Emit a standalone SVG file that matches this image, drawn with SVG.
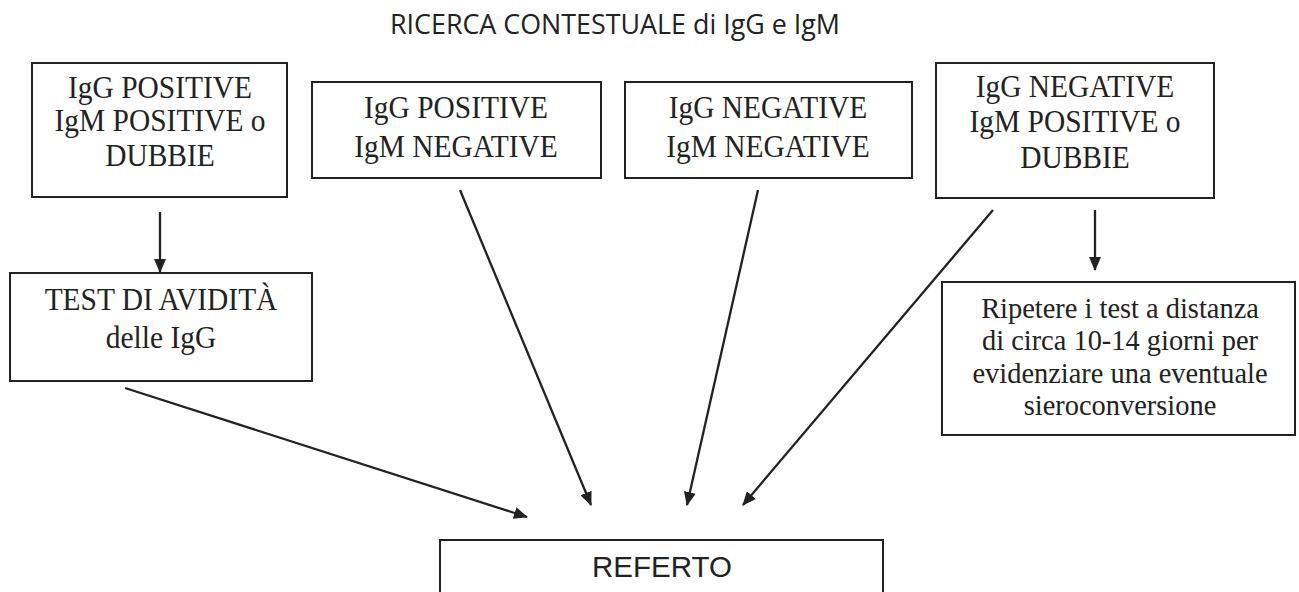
<svg xmlns="http://www.w3.org/2000/svg" width="1299" height="592" viewBox="0 0 1299 592">
<style>
.box{fill:#fff;stroke:#222;stroke-width:2}
.t{font-family:"Liberation Serif","Times New Roman",serif;font-size:31px;fill:#222;text-anchor:middle}
.s{font-size:29px}
.title{font-family:"Open Sans","Liberation Sans",sans-serif;font-size:27px;fill:#222;text-anchor:middle}
.ref{font-family:"Liberation Sans",Arial,sans-serif;font-size:29.5px;fill:#222;text-anchor:middle}
.c{stroke:#222;stroke-width:2.3;fill:none;marker-end:url(#ah)}
</style>
<defs>
<marker id="ah" markerUnits="userSpaceOnUse" markerWidth="14" markerHeight="12" refX="13" refY="6" orient="auto">
<path d="M0,0 L14,6 L0,12 Z" fill="#222"/>
</marker>
</defs>
<rect width="1299" height="592" fill="#fff"/>
<text id="title" class="title" x="615" y="34" textLength="450" lengthAdjust="spacingAndGlyphs">RICERCA CONTESTUALE di IgG e IgM</text>
<g id="box1">
<rect class="box" x="32" y="63" width="255" height="134"/>
<g transform="translate(160,0) scale(0.95,1)">
<text class="t" x="0" y="98">IgG POSITIVE</text>
<text class="t" x="0" y="131">IgM POSITIVE o</text>
<text class="t" x="0" y="166">DUBBIE</text>
</g>
</g>
<g id="box2">
<rect class="box" x="312" y="82" width="289" height="96"/>
<g transform="translate(456,0) scale(0.95,1)">
<text class="t" x="0" y="118">IgG POSITIVE</text>
<text class="t" x="0" y="157">IgM NEGATIVE</text>
</g>
</g>
<g id="box3">
<rect class="box" x="625" y="82" width="287" height="96"/>
<g transform="translate(768,0) scale(0.95,1)">
<text class="t" x="0" y="118">IgG NEGATIVE</text>
<text class="t" x="0" y="157">IgM NEGATIVE</text>
</g>
</g>
<g id="box4">
<rect class="box" x="936" y="63" width="278" height="135"/>
<g transform="translate(1075,0) scale(0.95,1)">
<text class="t" x="0" y="97">IgG NEGATIVE</text>
<text class="t" x="0" y="132">IgM POSITIVE o</text>
<text class="t" x="0" y="168">DUBBIE</text>
</g>
</g>
<g id="avidita">
<rect class="box" x="10" y="273" width="302" height="108"/>
<g transform="translate(161,0) scale(0.95,1)">
<text class="t" x="0" y="310">TEST DI AVIDITÀ</text>
<text class="t" x="0" y="348">delle IgG</text>
</g>
</g>
<g id="ripetere">
<rect class="box" x="942" y="282" width="353" height="153"/>
<g transform="translate(1120,0) scale(0.98,1)">
<text class="t s" x="0" y="318">Ripetere i test a distanza</text>
<text class="t s" x="0" y="350">di circa 10-14 giorni per</text>
<text class="t s" x="0" y="383">evidenziare una eventuale</text>
<text class="t s" x="0" y="415">sieroconversione</text>
</g>
</g>
<g id="referto">
<rect class="box" x="440" y="540" width="443" height="70"/>
<text class="ref" x="662" y="577">REFERTO</text>
</g>
<g id="connectors">
<line class="c" x1="160" y1="212" x2="160" y2="272"/>
<line class="c" x1="1095" y1="210" x2="1095" y2="270"/>
<line class="c" x1="125" y1="388" x2="527" y2="517"/>
<line class="c" x1="460" y1="190" x2="591" y2="505"/>
<line class="c" x1="758" y1="190" x2="687" y2="505"/>
<line class="c" x1="993" y1="210" x2="743" y2="505"/>
</g>
</svg>
